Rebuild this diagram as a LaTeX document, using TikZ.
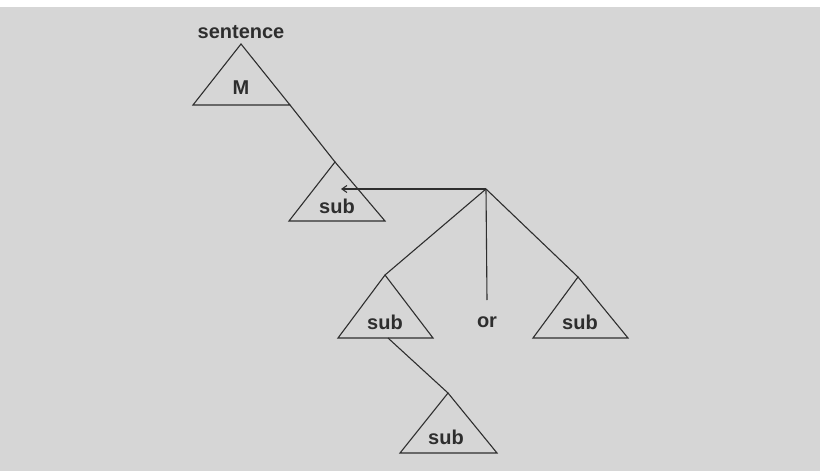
\documentclass[tikz,border=0pt]{standalone}
\usepackage{fontspec}
\setmainfont{Liberation Sans}
\usetikzlibrary{arrows.meta}
\definecolor{bgcol}{HTML}{D6D6D6}
\definecolor{inkcol}{HTML}{2E2E2E}
\begin{document}
\begin{tikzpicture}[x=1pt,y=-1pt,
  tri/.style={draw=inkcol,line width=1.1pt,line join=miter},
  link/.style={draw=inkcol,line width=1.1pt},
  lbl/.style={text=inkcol,font=\fontsize{20}{20}\selectfont\bfseries,inner sep=0pt}]
\useasboundingbox (0,0) rectangle (820,471);
\fill[bgcol] (0,0) rectangle (820,471);
\fill[white] (0,0) rectangle (820,7);
% apex coordinates
\coordinate (mA) at (241,44);
\coordinate (mR) at (290,105);
\coordinate (s1A) at (335,162);
\coordinate (s2A) at (385,275);
\coordinate (s2B) at (388,338);
\coordinate (s3A) at (578,277);
\coordinate (s4A) at (448,393);
\coordinate (root) at (486,189);
\coordinate (tip) at (341,189);
\coordinate (orTop) at (487,300);
% triangles
\draw[tri] (mA) -- (193,105) -- (mR) -- cycle;
\draw[tri] (s1A) -- (289,221) -- (385,221) -- cycle;
\draw[tri] (s2A) -- (338,338) -- (433,338) -- cycle;
\draw[tri] (s3A) -- (533,338) -- (628,338) -- cycle;
\draw[tri] (s4A) -- (400,453) -- (497,453) -- cycle;
% labels
\node[lbl] (sentence) at (241,32) {sentence};
\node[lbl] (M) at (241,88) {M};
\node[lbl] (sub1) at (337,206) {sub};
\node[lbl] (sub2) at (385,322) {sub};
\node[lbl] (or) at (487,322) {or};
\node[lbl] (sub3) at (580,322) {sub};
\node[lbl] (sub4) at (446,437) {sub};
% connectors
\draw[link] (mR) -- (s1A);
\draw[link,-{Straight Barb[length=5pt,width=7pt]}] (root) -- (tip);
\draw[link] (root) -- (s2A);
\draw[link] (root) -- (orTop);
\draw[link] (root) -- (s3A);
\draw[link] (s2B) -- (s4A);
\end{tikzpicture}
\end{document}
